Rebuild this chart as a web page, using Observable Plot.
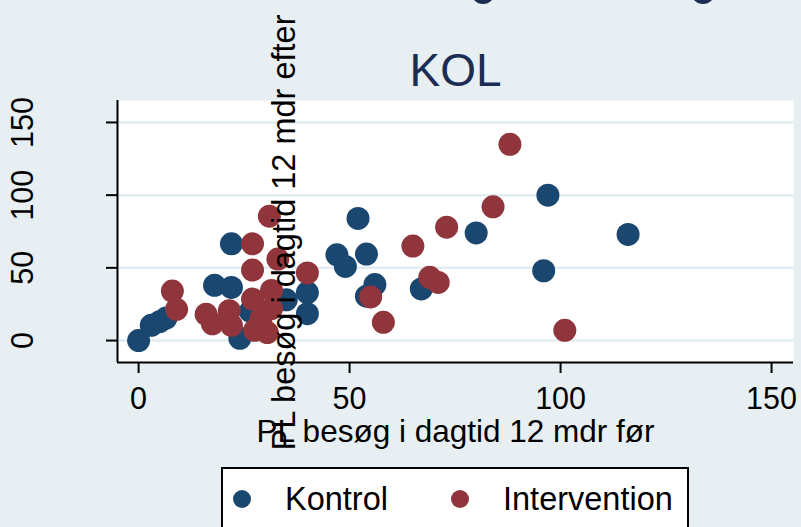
<!DOCTYPE html>
<html>
<head>
<meta charset="utf-8">
<script src="https://cdn.jsdelivr.net/npm/d3@7"></script>
<script src="https://cdn.jsdelivr.net/npm/@observablehq/plot@0.6"></script>
<style>
  html, body { margin: 0; padding: 0; background: #e8eff3; overflow: hidden; }
  #wrap { position: relative; width: 801px; height: 527px; overflow: hidden; font-family: "Liberation Sans", Arial, sans-serif; }
  #legend { position: absolute; left: 221px; top: 467px; width: 468px; height: 80px; background: white; border: 2px solid black; box-sizing: border-box; }
  .item { position: absolute; top: 12px; display: flex; align-items: center; font-size: 32.5px; color: black; line-height: 36px; }
  .sw { width: 18px; height: 18px; border-radius: 50%; display: inline-block; margin-right: 34px; }
  .blob { position: absolute; width: 24px; height: 24px; border-radius: 50%; background: #1c2d54; top: -20px; }
</style>
</head>
<body>
<div id="wrap"></div>
<script>
const title = "KOL";
const xTitle = "PL besøg i dagtid 12 mdr før";
const yTitle = "PL besøg i dagtid 12 mdr efter";
const seriesNames = ["Kontrol", "Intervention"];
const seriesColors = ["#1a476f", "#90353b"];
const xTicks = [0, 50, 100, 150];
const yTicks = [0, 50, 100, 150];
const xDomain = [-5, 155.2];
const yDomain = [-15.1, 165.1];

const kontrolX = [0, 3, 5, 6.5, 18, 22, 22, 24, 26.5, 35, 40, 40, 47, 49, 52, 54, 56, 54, 67, 80, 96, 97, 116];
const kontrolY = [0, 10.5, 13, 15.5, 38, 36.5, 66.5, 1.5, 20, 28, 33, 18.5, 59, 51, 84, 59.5, 38.5, 30.5, 35.5, 74, 48, 100, 73];
const interventionX = [8, 9, 16, 17.5, 21.5, 22, 27, 27, 27, 27.5, 30.5, 29, 31, 33, 31.5, 31.5, 40, 55, 58, 65, 69, 71, 73, 84, 88, 101];
const interventionY = [34, 21.5, 18, 11.5, 20.5, 10.5, 66.5, 48.5, 28.5, 7, 5.5, 15, 85.5, 56, 34.5, 22, 46.5, 30, 12.5, 65, 43.5, 40, 78, 92, 135, 7];

const kontrol = kontrolX.map((x, i) => ({x, y: kontrolY[i]}));
const intervention = interventionX.map((x, i) => ({x, y: interventionY[i]}));

const chart = Plot.plot({
  width: 801,
  height: 527,
  marginLeft: 117,
  marginRight: 8,
  marginTop: 100,
  marginBottom: 165,
  style: {background: "#e8eff3", fontFamily: "'Liberation Sans', Arial, sans-serif", color: "black"},
  x: {domain: xDomain},
  y: {domain: yDomain},
  marks: [
    Plot.frame({fill: "white", stroke: null}),
    Plot.ruleY(yTicks, {stroke: "#e3edf1", strokeWidth: 2.5}),
    Plot.dot(kontrol, {x: "x", y: "y", r: 11.5, fill: seriesColors[0], stroke: null}),
    Plot.dot(intervention, {x: "x", y: "y", r: 11.5, fill: seriesColors[1], stroke: null}),
    Plot.ruleX([xDomain[0]], {stroke: "black", strokeWidth: 2}),
    Plot.ruleY([yDomain[0]], {stroke: "black", strokeWidth: 2}),
    Plot.axisX({ticks: xTicks, tickSize: 11, tickFormat: () => "", label: null, strokeWidth: 2, stroke: "black"}),
    Plot.axisY({ticks: yTicks, tickSize: 11, tickFormat: () => "", label: null, strokeWidth: 2, stroke: "black"}),
    Plot.text(xTicks, {x: d => d, frameAnchor: "bottom", dy: 37, fontSize: 30.5, lineAnchor: "middle", text: d => String(d), fill: "black"}),
    Plot.text(yTicks, {y: d => d, frameAnchor: "left", dx: -94, rotate: -90, fontSize: 30.5, lineAnchor: "middle", textAnchor: "middle", text: d => String(d), fill: "black"}),
    Plot.text([title], {frameAnchor: "top", dy: -29, fontSize: 46, lineAnchor: "middle", fill: "#1c2d54"}),
    Plot.text([xTitle], {frameAnchor: "bottom", dy: 69, fontSize: 31.5, lineAnchor: "middle", fill: "black"}),
    Plot.text([yTitle], {frameAnchor: "left", dx: 167, dy: 1, rotate: -90, fontSize: 32.5, lineAnchor: "middle", textAnchor: "middle", fill: "black"})
  ]
});
const wrap = document.getElementById("wrap");
wrap.appendChild(chart);

const legend = document.createElement("div");
legend.id = "legend";
const lefts = [10, 228];
seriesNames.forEach((name, i) => {
  const item = document.createElement("div");
  item.className = "item";
  item.style.left = lefts[i] + "px";
  const sw = document.createElement("span");
  sw.className = "sw";
  sw.style.background = seriesColors[i];
  item.appendChild(sw);
  item.appendChild(document.createTextNode(name));
  legend.appendChild(item);
});
wrap.appendChild(legend);

[471, 691].forEach(l => {
  const b = document.createElement("div");
  b.className = "blob";
  b.style.left = l + "px";
  wrap.appendChild(b);
});
</script>
</body>
</html>
